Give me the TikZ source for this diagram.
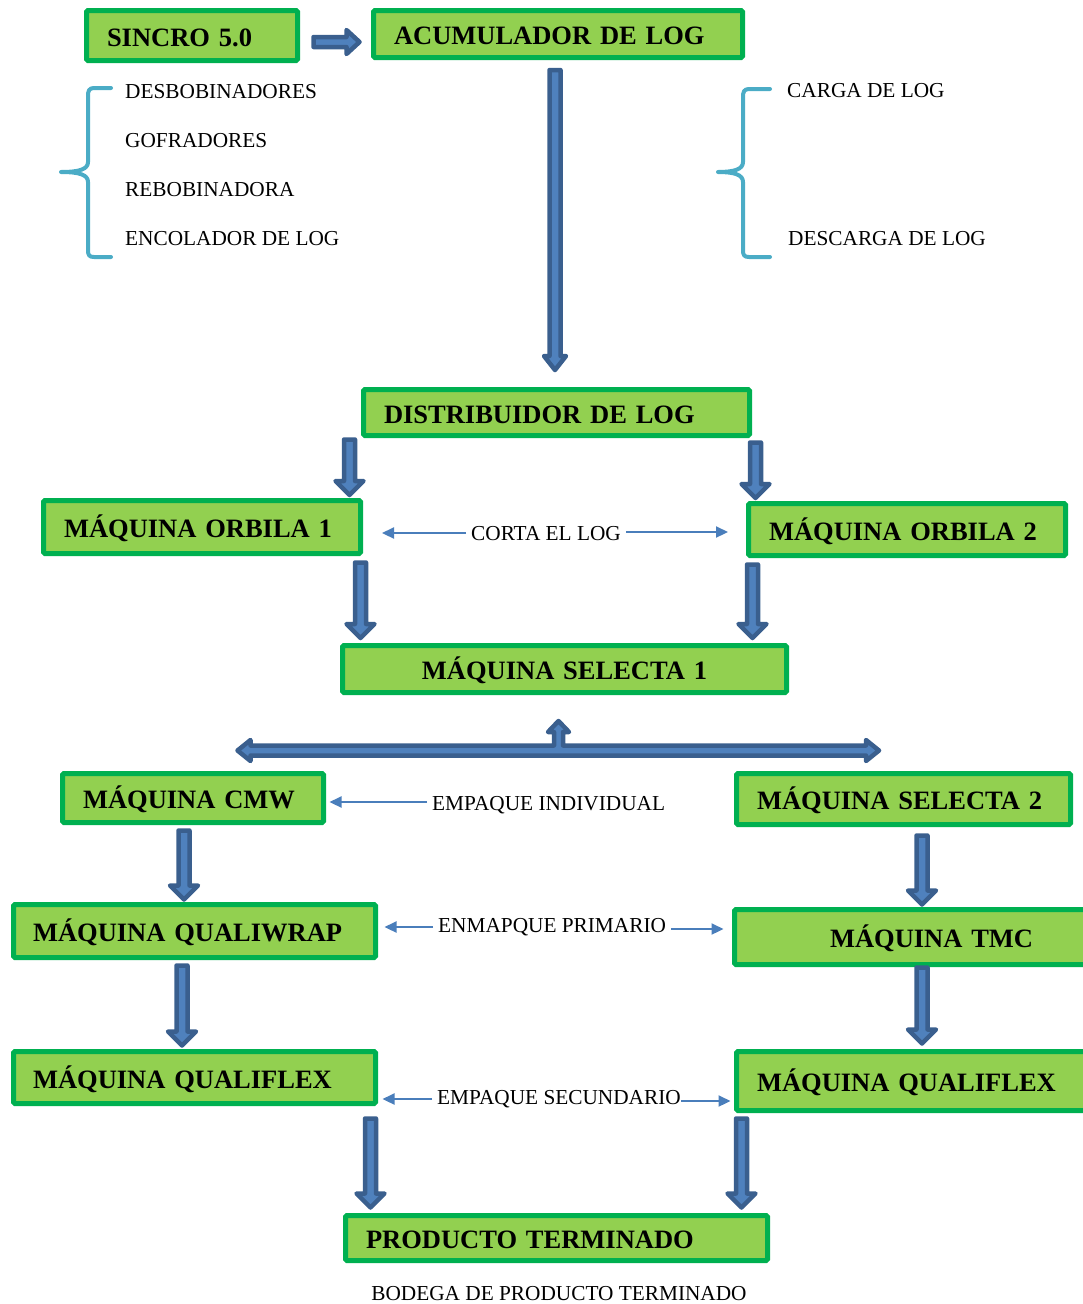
\documentclass[tikz,border=0pt]{standalone}
\usepackage{fontspec}
\setmainfont{Liberation Serif}
\usetikzlibrary{arrows.meta,calc}
\definecolor{boxgreen}{HTML}{00B050}
\definecolor{boxfill}{HTML}{92D050}
\definecolor{arrdark}{HTML}{3A5F8E}
\definecolor{arrlight}{HTML}{4F81BD}
\definecolor{thinblue}{HTML}{4A7EBB}
\definecolor{bracecol}{HTML}{4BACC6}
\tikzset{
  pbox/.style={draw=boxgreen, fill=boxfill, line width=5pt, rounded corners=1.5pt,
    font=\bfseries\fontsize{26.5}{30}\selectfont, inner xsep=20.5pt, inner ysep=0pt,
    align=left, text height=21pt, text depth=0pt},
  lbl/.style={font=\fontsize{21.3}{25}\selectfont, inner sep=5pt, anchor=base west},
  blk/.style={draw=arrdark, fill=arrlight, line width=4.5pt, line join=round},
  tarr/.style={draw=thinblue, line width=2.2pt, -{Triangle[length=12pt,width=11pt]}},
  brc/.style={draw=bracecol, line width=4pt, line cap=round, line join=round}
}
% down block arrow: x from #2, top y from #2, tip y from #3; #1 head half width
\newcommand\blkdown[3][14]{%
  \draw[blk] let \p1=#2, \p2=#3 in
    (\x1-5.5pt,\y1) -- (\x1-5.5pt,\y2+14pt) -- (\x1-#1pt,\y2+14pt) -- (\x1,\y2)
    -- (\x1+#1pt,\y2+14pt) -- (\x1+5.5pt,\y2+14pt) -- (\x1+5.5pt,\y1) -- cycle;}
\newcommand\blkright[2]{%
  \draw[blk] let \p1=#1, \p2=#2 in
    (\x1,\y1+5pt) -- (\x2-13pt,\y1+5pt) -- (\x2-13pt,\y1+12pt) -- (\x2,\y1)
    -- (\x2-13pt,\y1-12pt) -- (\x2-13pt,\y1-5pt) -- (\x1,\y1-5pt) -- cycle;}
\begin{document}
\begin{tikzpicture}[x=1pt,y=-1pt]
\useasboundingbox (0,0) rectangle (1083,1304);
\clip (0,0) rectangle (1083,1304);

% boxes
\node[pbox, minimum width=211pt, minimum height=50pt, text width=170pt] (sincro) at (192,35.5) {SINCRO 5.0};
\node[pbox, minimum width=369pt, minimum height=47pt, text width=328pt] (acum) at (558,34) {ACUMULADOR DE LOG};
\node[pbox, minimum width=386pt, minimum height=46pt, text width=345pt] (dist) at (556.5,412.5) {DISTRIBUIDOR DE LOG};
\node[pbox, minimum width=317pt, minimum height=53pt, text width=276pt] (orb1) at (202,527) {MÁQUINA ORBILA 1};
\node[pbox, minimum width=317pt, minimum height=52pt, text width=276pt] (orb2) at (907,529.5) {MÁQUINA ORBILA 2};
\node[pbox, minimum width=444pt, minimum height=47pt, text width=403pt, align=center] (sel1) at (564.5,669) {MÁQUINA SELECTA 1};
\node[pbox, minimum width=261pt, minimum height=49pt, text width=220pt] (cmw) at (193,798) {MÁQUINA CMW};
\node[pbox, minimum width=334pt, minimum height=51pt, text width=293pt] (sel2) at (903.5,799) {MÁQUINA SELECTA 2};
\node[pbox, minimum width=362pt, minimum height=53pt, text width=323pt, inner xsep=19.5pt] (qwrap) at (194.5,931) {MÁQUINA QUALIWRAP};
\node[pbox, minimum width=358pt, minimum height=55pt, text width=317pt] (tmc) at (913.5,937) {\hspace*{75pt}MÁQUINA TMC};
\node[pbox, minimum width=362pt, minimum height=52pt, text width=323pt, inner xsep=19.5pt] (qflex1) at (194.5,1077.5) {MÁQUINA QUALIFLEX};
\node[pbox, minimum width=356pt, minimum height=59pt, text width=315pt] (qflex2) at (914.5,1081) {MÁQUINA QUALIFLEX};
\node[pbox, minimum width=422pt, minimum height=45pt, text width=381pt] (prod) at (556.5,1238) {PRODUCTO TERMINADO};

% side labels
\node[lbl] (l1) at (120,98) {DESBOBINADORES};
\node[lbl] (l2) at (120,147) {GOFRADORES};
\node[lbl] (l3) at (120,196) {REBOBINADORA};
\node[lbl] (l4) at (120,245) {ENCOLADOR DE LOG};
\node[lbl] (r1) at (782,97.5) {CARGA DE LOG};
\node[lbl] (r2) at (783,245.5) {DESCARGA DE LOG};
\node[lbl] (corta) at (466,540) {CORTA EL LOG};
\node[lbl] (empind) at (427,810) {EMPAQUE INDIVIDUAL};
\node[lbl] (enmp) at (433,932) {ENMAPQUE PRIMARIO};
\node[lbl] (empsec) at (432,1104) {EMPAQUE SECUNDARIO};
\node[lbl, anchor=base] (bodega) at (559,1300) {BODEGA DE PRODUCTO TERMINADO};

% braces
\draw[brc] (111,88) -- (94,88) .. controls (89,88) and (88,91) .. (88,96) -- (88,162)
  .. controls (88,169) and (80,172) .. (61,172)
  (61,172) .. controls (80,172) and (88,175) .. (88,182) -- (88,250)
  .. controls (88,255) and (89,257) .. (94,257) -- (111,257);
\draw[brc] (770,89) -- (749,89) .. controls (744,89) and (743,92) .. (743,97) -- (743,162)
  .. controls (743,169) and (735,172) .. (718,172)
  (718,172) .. controls (735,172) and (743,175) .. (743,182) -- (743,250)
  .. controls (743,255) and (744,257) .. (749,257) -- (770,257);

% block arrows
\blkright{($(sincro.east)+(13.5,6.5)$)}{($(acum.west)+(-11.5,0)$)}
\blkdown[11]{($(acum.south)+(-3,10)$)}{($(dist.north)+(0,-17)$)}
\blkdown{($(dist.south west)+(-11.5,1.5)$)}{($(orb1.north)+(0,-3)$)}
\blkdown{($(dist.south east)+(3.5,4.5)$)}{($(orb2.north)+(0,-3)$)}
\blkdown{($(orb1.south east)+(-2.5,6.5)$)}{($(sel1.north)+(0,-5)$)}
\blkdown{($(orb2.south west)+(6.5,6.5)$)}{($(sel1.north)+(0,-5)$)}
\blkdown{($(cmw.south)+(-9,5.5)$)}{($(qwrap.north)+(0,-2.5)$)}
\blkdown{($(sel2.south)+(18.5,8.5)$)}{($(tmc.north)+(0,-2.5)$)}
\blkdown{($(qwrap.south)+(-12.5,5.5)$)}{($(qflex1.north)+(0,-3.5)$)}
\blkdown{($(tmc.south)+(8.5,0.5)$)}{($(qflex2.north)+(0,-5.5)$)}
\blkdown{($(qflex1.south east)+(-7.5,12.5)$)}{($(prod.north)+(0,-5.5)$)}
\blkdown{($(qflex2.south west)+(7.5,5.5)$)}{($(prod.north)+(0,-5.5)$)}

% double arrow with up arrow under selecta 1
\coordinate (uptip) at ($(sel1.south)+(-6,26)$);
\coordinate (ltip) at ($(sel1.south)+(-327,55.5)$);
\coordinate (rtip) at ($(sel1.south)+(314.5,55.5)$);
\draw[blk] let \p1=(uptip), \p2=(ltip), \p3=(rtip) in
  (\x2,\y2) -- (\x2+13pt,\y2+10.5pt) -- (\x2+13pt,\y2+5pt) -- (\x1-4.5pt,\y2+5pt)
  -- (\x1-4.5pt,\y1-11pt) -- (\x1-10.5pt,\y1-11pt) -- (\x1,\y1) -- (\x1+10.5pt,\y1-11pt)
  -- (\x1+4.5pt,\y1-11pt) -- (\x1+4.5pt,\y2+5pt) -- (\x3-13pt,\y2+5pt) -- (\x3-13pt,\y2+10.5pt)
  -- (\x3,\y2) -- (\x3-13pt,\y2-10.5pt) -- (\x3-13pt,\y2-5pt) -- (\x2+13pt,\y2-5pt)
  -- (\x2+13pt,\y2-10.5pt) -- cycle;

% thin arrows
\draw[tarr, shorten >=19pt] ([yshift=7pt]corta.base west) -- ([yshift=7pt]corta.base west -| orb1.east);
\draw[tarr, shorten >=18pt] ([yshift=8pt]corta.base east) -- ([yshift=8pt]corta.base east -| orb2.west);
\draw[tarr, shorten >=3.5pt] ([yshift=8pt]empind.base west) -- ([yshift=8pt]empind.base west -| cmw.east);
\draw[tarr, shorten >=6.5pt] ([yshift=5pt]enmp.base west) -- ([yshift=5pt]enmp.base west -| qwrap.east);
\draw[tarr, shorten >=8.5pt] ([yshift=3pt]enmp.base east) -- ([yshift=3pt]enmp.base east -| tmc.west);
\draw[tarr, shorten >=4.5pt] ([yshift=5pt]empsec.base west) -- ([yshift=5pt]empsec.base west -| qflex1.east);
\draw[tarr, shorten >=3.5pt] ([yshift=3pt,xshift=-5pt]empsec.base east) -- ([yshift=3pt]empsec.base east -| qflex2.west);
\end{tikzpicture}
\end{document}
